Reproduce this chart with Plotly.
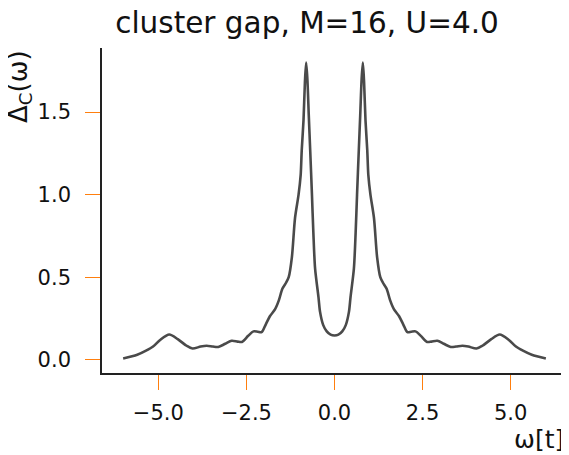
import plotly.graph_objects as go

# 데이터
omega = [-6.0, -5.6, -5.35, -5.15, -4.95, -4.69, -4.45, -4.2, -4.03, -3.8, -3.63, -3.45, -3.3,
         -3.1, -2.92, -2.75, -2.63, -2.45, -2.3, -2.18, -2.07, -1.95, -1.83, -1.69, -1.58,
         -1.48, -1.38, -1.3, -1.21, -1.12, -1.02, -0.96, -0.93, -0.88, -0.84, -0.805, -0.77,
         -0.73, -0.69, -0.64, -0.6, -0.55, -0.455, -0.41, -0.32, -0.22, -0.11, 0.0,
         0.11, 0.22, 0.32, 0.41, 0.455, 0.55, 0.6, 0.64, 0.69, 0.73, 0.77, 0.805, 0.84,
         0.88, 0.93, 0.96, 1.02, 1.12, 1.21, 1.3, 1.38, 1.48, 1.58, 1.69, 1.83, 1.95, 2.07,
         2.18, 2.3, 2.45, 2.63, 2.75, 2.92, 3.1, 3.3, 3.45, 3.63, 3.8, 4.03, 4.2, 4.45,
         4.69, 4.95, 5.15, 5.35, 5.6, 6.0]
gap = [0.008, 0.03, 0.055, 0.08, 0.12, 0.153, 0.125, 0.085, 0.068, 0.08, 0.085, 0.08, 0.078,
       0.097, 0.115, 0.11, 0.108, 0.145, 0.172, 0.17, 0.167, 0.215, 0.265, 0.305, 0.36,
       0.43, 0.465, 0.5, 0.62, 0.86, 1.0, 1.12, 1.27, 1.45, 1.68, 1.8, 1.7,
       1.48, 1.27, 1.0, 0.77, 0.55, 0.38, 0.29, 0.21, 0.172, 0.152, 0.147,
       0.152, 0.172, 0.21, 0.29, 0.38, 0.55, 0.77, 1.0, 1.27, 1.48, 1.7, 1.8, 1.68,
       1.45, 1.27, 1.12, 1.0, 0.86, 0.62, 0.5, 0.465, 0.43, 0.36, 0.305, 0.265, 0.215, 0.167,
       0.17, 0.172, 0.145, 0.108, 0.11, 0.115, 0.097, 0.078, 0.08, 0.085, 0.08, 0.068, 0.085, 0.125,
       0.153, 0.12, 0.08, 0.055, 0.03, 0.008]

x_ticks = [-5.0, -2.5, 0.0, 2.5, 5.0]
y_ticks = [0.0, 0.5, 1.0, 1.5]

font_family = "DejaVu Sans"
tick_orange = "#ff7f0e"

fig = go.Figure()
fig.add_trace(go.Scatter(
    x=omega, y=gap, mode="lines",
    line=dict(color="#4a4a4a", width=2.6, shape="spline", smoothing=0.8),
    showlegend=False
))

axis_common = dict(
    showline=True, linecolor="#222222", linewidth=1.6, mirror=False,
    showgrid=False, zeroline=False,
    ticks="outside", ticklen=15, tickwidth=1.2, tickcolor=tick_orange,
    tickfont=dict(family=font_family, size=21, color="#111111"),
)

# 페이지 body 여백(8px)을 감안한 크기
fig.update_layout(
    width=561, height=447,
    margin=dict(l=94, r=2, t=40, b=82),
    paper_bgcolor="white", plot_bgcolor="white",
    font=dict(family=font_family, color="#111111"),
    xaxis=dict(range=[-6.6, 6.6], tickvals=x_ticks, ticktext=["−5.0", "−2.5", "0.0", "2.5", "5.0"],
               ticklabelstandoff=5, **axis_common),
    yaxis=dict(range=[-0.08, 1.888], tickvals=y_ticks, ticktext=["0.0", "0.5", "1.0", "1.5"],
               ticklabelstandoff=10, **axis_common),
    title=dict(text="cluster gap, M=16, U=4.0", x=299 / 561, xanchor="center",
               y=1 - 15 / 447, yanchor="middle",
               font=dict(family=font_family, size=29.5, color="#111111")),
    annotations=[
        dict(text="ω[t]", xref="paper", yref="paper", x=1.0, y=0, xanchor="right", yanchor="top",
             yshift=-50, xshift=-1, showarrow=False,
             font=dict(family=font_family, size=25, color="#111111")),
        dict(text="Δ<sub>C</sub>(ω)", xref="paper", yref="paper", x=0, y=1.0, xanchor="right",
             yanchor="top", xshift=-64, yshift=0, textangle=-90, showarrow=False,
             font=dict(family=font_family, size=26, color="#111111")),
    ],
)

fig.write_html("out.html")
